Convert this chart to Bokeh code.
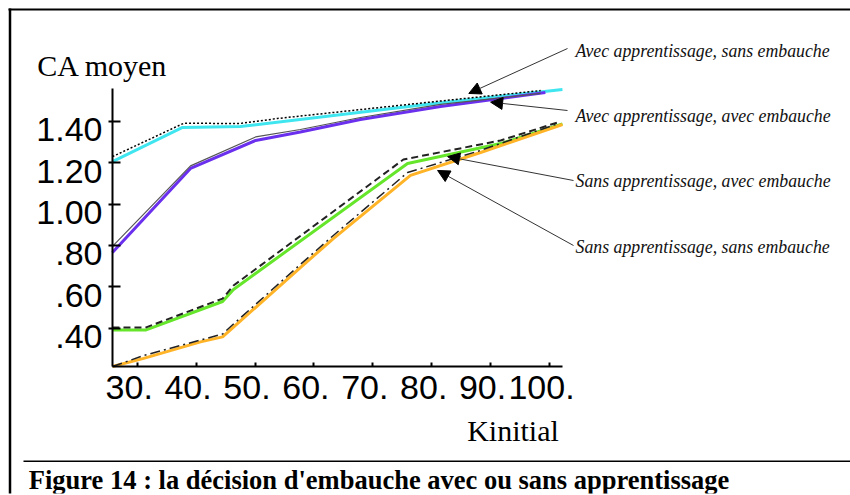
from bokeh.plotting import figure
from bokeh.models import (Range1d, FixedTicker, LabelSet, Arrow, NormalHead,
                          ColumnDataSource)
from bokeh.core.properties import value
from bokeh.embed import file_html
from bokeh.resources import INLINE

# ---------------- data ----------------
x_ticks = [30, 40, 50, 60, 70, 80, 90, 100]
x_tick_labels = ["30.", "40.", "50.", "60.", "70.", "80.", "90.", "100."]
y_ticks = [0.40, 0.60, 0.80, 1.00, 1.20, 1.40]
y_tick_labels = [".40", ".60", ".80", "1.00", "1.20", "1.40"]

x_title = "Kinitial"
y_title = "CA moyen"
caption = "Figure 14 : la décision d'embauche avec ou sans apprentissage"

series_names = ["Avec apprentissage, sans embauche",
                "Avec apprentissage, avec embauche",
                "Sans apprentissage, avec embauche",
                "Sans apprentissage, sans embauche"]

# Avec apprentissage, sans embauche (black dotted / cyan)
aa_se_x = [25.8, 37.9, 47.5, 53.8, 79.0, 98.5]
aa_se_y = [1.229, 1.390, 1.389, 1.413, 1.490, 1.548]
aa_se_col_x = [25.8, 37.7, 47.5, 79.0, 102.2]
aa_se_col_y = [1.205, 1.370, 1.374, 1.481, 1.553]

# Avec apprentissage, avec embauche (grey solid / violet)
aa_ae_x = [25.8, 39.05, 50.1, 57.7, 67.9, 81.5, 98.5]
aa_ae_y = [0.795, 1.184, 1.324, 1.360, 1.418, 1.481, 1.534]
aa_ae_col_x = [25.8, 39.05, 50.1, 57.7, 67.9, 81.5, 99.3]
aa_ae_col_y = [0.766, 1.172, 1.307, 1.348, 1.408, 1.471, 1.539]

# Sans apprentissage, avec embauche (black dashed / green)
sa_ae_x = [25.8, 31.4, 44.5, 46.35, 75.2, 91.7, 101.4]
sa_ae_y = [0.403, 0.403, 0.543, 0.606, 1.215, 1.307, 1.394]
sa_ae_col_x = [25.8, 31.4, 44.5, 46.35, 75.9, 91.7, 102.2]
sa_ae_col_y = [0.391, 0.391, 0.529, 0.587, 1.196, 1.292, 1.387]

# Sans apprentissage, sans embauche (black dash-dot / orange)
sa_se_x = [25.8, 31.1, 44.5, 46.35, 57.7, 63.3, 75.9, 88.3, 101.5]
sa_se_y = [0.215, 0.268, 0.372, 0.420, 0.708, 0.848, 1.152, 1.259, 1.389]
sa_se_col_x = [25.8, 31.1, 40.75, 44.5, 46.35, 57.7, 63.3, 76.4, 88.3, 102.2]
sa_se_col_y = [0.215, 0.254, 0.334, 0.358, 0.405, 0.693, 0.833, 1.138, 1.249, 1.384]

# points of the curves the annotation arrows point at
arrow_tip_x = [86.3, 90.0, 82.7, 81.0]
arrow_tip_y = [1.534, 1.492, 1.229, 1.162]

# ---------------- layout ----------------
W, H = 850, 495
FL, FR, FT, FB = 6, 850, 0, 493        # frame edges (px), fixed by min_border_*
PX_PER_X, PX_PER_Y = 5.89, 207.0       # scale of the chart
X_AT, Y_AT = (136.7, 30.0), (120.7, 1.40)


def px2x(px):
    return X_AT[1] + (px - X_AT[0]) / PX_PER_X


def py2y(py):
    return Y_AT[1] - (py - Y_AT[0]) / PX_PER_Y


X0, X1 = px2x(FL), px2x(FR)
Y0, Y1 = py2y(FB), py2y(FT)
AX_X = px2x(112)     # where the vertical axis stands
AX_Y = py2y(366)     # where the horizontal axis stands

p = figure(width=W, height=H, output_backend="svg", toolbar_location=None,
           x_range=Range1d(X0, X1), y_range=Range1d(Y0, Y1),
           min_border=0, min_border_left=FL, min_border_right=W - FR,
           min_border_top=FT, min_border_bottom=H - FB)
p.outline_line_color = None
p.grid.visible = False
p.background_fill_color = "white"
p.border_fill_color = "white"

for ax in (p.xaxis[0], p.yaxis[0]):
    ax.axis_line_width = 2
    ax.axis_line_color = "black"
    ax.major_tick_line_width = 2
    ax.major_tick_line_color = "black"
    ax.minor_tick_line_color = None
    ax.major_label_text_color = None
    ax.major_label_text_font_size = "1px"
    ax.major_label_standoff = 0

p.xaxis.ticker = FixedTicker(ticks=x_ticks)
p.yaxis.ticker = FixedTicker(ticks=y_ticks)
p.xaxis.fixed_location = AX_Y
p.yaxis.fixed_location = AX_X
p.xaxis.bounds = (AX_X, 102.2)
p.yaxis.bounds = (AX_Y, 1.558)
p.xaxis.major_tick_in = 4
p.xaxis.major_tick_out = 0
p.yaxis.major_tick_in = 8
p.yaxis.major_tick_out = 4

sans = value("Liberation Sans")
serif = value("Liberation Serif")

# tick labels
xl = ColumnDataSource(dict(x=x_ticks, y=[AX_Y] * len(x_ticks), t=x_tick_labels))
p.add_layout(LabelSet(x="x", y="y", text="t", source=xl, x_offset=-8, y_offset=-32,
                      text_align="center", text_baseline="alphabetic",
                      text_font=sans, text_font_size="34px", text_color="black"))
yl = ColumnDataSource(dict(x=[AX_X] * len(y_ticks), y=y_ticks, t=y_tick_labels))
p.add_layout(LabelSet(x="x", y="y", text="t", source=yl, x_offset=-10, y_offset=-20,
                      text_align="right", text_baseline="alphabetic",
                      text_font=sans, text_font_size="34px", text_color="black"))

# coloured curves
p.line(aa_se_col_x, aa_se_col_y, line_color="#3fe6f0", line_width=3)
p.line(aa_ae_col_x, aa_ae_col_y, line_color="#6a30ee", line_width=3)
p.line(sa_ae_col_x, sa_ae_col_y, line_color="#66e62a", line_width=3)
p.line(sa_se_col_x, sa_se_col_y, line_color="#ffb326", line_width=3)

# black curves
p.line(aa_se_x, aa_se_y, line_color="black", line_width=1.5, line_dash="2 2")
p.line(aa_ae_x, aa_ae_y, line_color="#555555", line_width=1.2)
p.line(sa_ae_x, sa_ae_y, line_color="#222222", line_width=2, line_dash="7 4")
p.line(sa_se_x, sa_se_y, line_color="#222222", line_width=1.5, line_dash="10 4 2 4")

# axis titles
titles = ColumnDataSource(dict(x=[px2x(36.7), px2x(466.7)], y=[py2y(75), py2y(440.7)],
                               t=[y_title, x_title]))
p.add_layout(LabelSet(x="x", y="y", text="t", source=titles, text_font=serif,
                      text_font_size="30px", text_align="left",
                      text_baseline="alphabetic", text_color="black"))

# annotations
text_x = [px2x(575)] * 4
text_y = [py2y(56), py2y(121.7), py2y(186.7), py2y(252)]
tail_x = [px2x(567), px2x(567), px2x(573), px2x(573)]
tail_y = [py2y(48), py2y(110), py2y(180), py2y(245)]
ann = ColumnDataSource(dict(tx=text_x, ty=text_y, t=series_names,
                            x0=tail_x, y0=tail_y, x1=arrow_tip_x, y1=arrow_tip_y))
p.add_layout(LabelSet(x="tx", y="ty", text="t", source=ann, text_font=serif,
                      text_font_style="italic", text_font_size="17.8px",
                      text_align="left", text_baseline="alphabetic", text_color="#111111"))
p.add_layout(Arrow(source=ann, x_start="x0", y_start="y0", x_end="x1", y_end="y1",
                   line_color="#333333", line_width=1,
                   end=NormalHead(size=12, fill_color="black", line_color="black")))

# page frame, caption rule and caption
p.add_layout(Arrow(x_start=px2x(8), y_start=py2y(9), x_end=px2x(W), y_end=py2y(9),
                   line_color="black", line_width=2, end=None))
p.add_layout(Arrow(x_start=px2x(9.5), y_start=py2y(8), x_end=px2x(9.5), y_end=py2y(H),
                   line_color="black", line_width=2.5, end=None))
p.add_layout(Arrow(x_start=px2x(23), y_start=py2y(460.7), x_end=px2x(W), y_end=py2y(460.7),
                   line_color="black", line_width=1.5, end=None))
cap = ColumnDataSource(dict(x=[px2x(28.3)], y=[py2y(488.5)], t=[caption]))
p.add_layout(LabelSet(x="x", y="y", text="t", source=cap, text_font=serif,
                      text_font_style="bold", text_font_size="26.5px", text_align="left",
                      text_baseline="alphabetic", text_color="black"))

open("out.html", "w").write(file_html(p, INLINE))
